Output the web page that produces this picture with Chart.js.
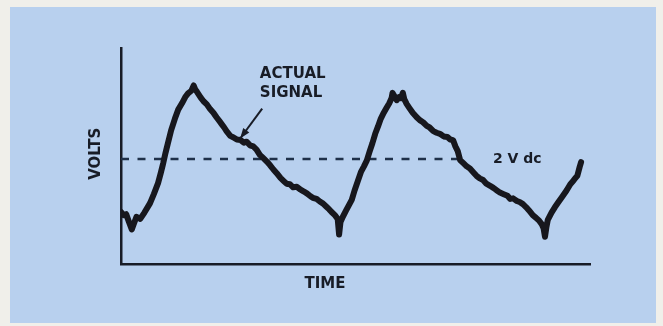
<!DOCTYPE html>
<html>
<head>
<meta charset="utf-8">
<script src="https://cdn.jsdelivr.net/npm/chart.js@4/dist/chart.umd.min.js"></script>
<style>
  html, body { margin: 0; padding: 0; background: #f0efea; }
  #panel { position: absolute; left: 10px; top: 7px; width: 646px; height: 316px; background: #b8d0ee; }
  #wrap { position: absolute; left: 0; top: 0; width: 663px; height: 326px; }
</style>
</head>
<body>
<div id="panel"></div>
<div id="wrap"><canvas id="chart" width="663" height="326"></canvas></div>
<script>
// signal (time in arbitrary units, volts)
const signalTime = [
  0.00, 0.06, 0.11, 0.17, 0.23, 0.28, 0.33, 0.41, 0.50, 0.62, 0.70, 0.79, 0.85, 0.90, 0.95, 1.00,
  1.07, 1.15, 1.22, 1.30, 1.37, 1.43, 1.50, 1.55, 1.58, 1.62, 1.70, 1.76, 1.83, 1.90, 1.97, 2.04,
  2.10, 2.15, 2.20, 2.25, 2.33, 2.40, 2.47, 2.55, 2.62, 2.68, 2.75, 2.82, 2.89, 2.96, 3.03, 3.11,
  3.18, 3.25, 3.32, 3.40, 3.47, 3.53, 3.60, 3.67, 3.75, 3.82, 3.90, 3.97, 4.04, 4.09, 4.17, 4.24,
  4.31, 4.38, 4.44, 4.49, 4.56, 4.62, 4.65, 4.68, 4.73, 4.80, 4.86, 4.92, 4.98, 5.05, 5.12, 5.18,
  5.24, 5.30, 5.36, 5.42, 5.48, 5.54, 5.59, 5.66, 5.72, 5.77, 5.79, 5.84, 5.88, 5.93, 5.97, 6.01,
  6.04, 6.09, 6.15, 6.22, 6.30, 6.37, 6.44, 6.52, 6.58, 6.66, 6.73, 6.80, 6.88, 6.96, 7.02, 7.08,
  7.13, 7.18, 7.23, 7.30, 7.37, 7.44, 7.52, 7.58, 7.65, 7.72, 7.79, 7.87, 7.94, 8.00, 8.08, 8.16,
  8.24, 8.30, 8.36, 8.44, 8.50, 8.57, 8.64, 8.70, 8.78, 8.85, 8.92, 8.97, 9.01, 9.04, 9.07, 9.10,
  9.18, 9.25, 9.32, 9.40, 9.50, 9.58, 9.64, 9.68, 9.73, 9.78, 9.81
];
const signalVolts = [
  0.99, 0.93, 0.95, 0.80, 0.66, 0.78, 0.90, 0.86, 0.98, 1.16, 1.33, 1.54, 1.74, 1.92, 2.12, 2.30,
  2.55, 2.77, 2.94, 3.06, 3.18, 3.25, 3.30, 3.40, 3.33, 3.28, 3.17, 3.10, 3.04, 2.95, 2.88, 2.79,
  2.72, 2.66, 2.60, 2.53, 2.44, 2.41, 2.37, 2.36, 2.31, 2.33, 2.26, 2.24, 2.18, 2.08, 2.02, 1.95,
  1.88, 1.80, 1.73, 1.64, 1.58, 1.53, 1.52, 1.46, 1.47, 1.42, 1.38, 1.34, 1.29, 1.26, 1.24, 1.19,
  1.15, 1.09, 1.04, 0.99, 0.93, 0.86, 0.56, 0.80, 0.90, 1.02, 1.12, 1.22, 1.40, 1.58, 1.76, 1.86,
  1.97, 2.14, 2.30, 2.48, 2.62, 2.77, 2.86, 2.97, 3.06, 3.16, 3.26, 3.18, 3.12, 3.18, 3.16, 3.26,
  3.14, 3.05, 2.97, 2.88, 2.80, 2.74, 2.70, 2.63, 2.60, 2.53, 2.50, 2.48, 2.43, 2.42, 2.37, 2.36,
  2.24, 2.15, 1.98, 1.92, 1.86, 1.82, 1.74, 1.68, 1.63, 1.60, 1.53, 1.49, 1.45, 1.41, 1.36, 1.33,
  1.30, 1.24, 1.25, 1.20, 1.18, 1.14, 1.08, 1.02, 0.93, 0.88, 0.82, 0.76, 0.68, 0.52, 0.70, 0.84,
  0.98, 1.08, 1.17, 1.27, 1.40, 1.52, 1.58, 1.63, 1.68, 1.85, 1.94
];
// dc reference line
const dcLevel = 2;
const dcTime = [0, 7.25];

const ink = '#181c26';

const signalPoints = signalTime.map((t, i) => ({ x: t, y: signalVolts[i] }));
const dcPoints = dcTime.map(t => ({ x: t, y: dcLevel }));

// labels, arrow and axis names drawn on top
const labelsPlugin = {
  id: 'labels',
  afterDatasetsDraw(chart) {
    const ctx = chart.ctx;
    const xs = chart.scales.x, ys = chart.scales.y;
    const area = chart.chartArea;
    ctx.save();
    ctx.fillStyle = ink;
    ctx.strokeStyle = ink;
    ctx.font = 'bold 15px "DejaVu Sans"';
    ctx.textBaseline = 'middle';
    ctx.textAlign = 'left';
    ctx.fillText('ACTUAL', xs.getPixelForValue(2.96), ys.getPixelForValue(3.61));
    ctx.fillText('SIGNAL', xs.getPixelForValue(2.96), ys.getPixelForValue(3.25));
    ctx.font = 'bold 14px "DejaVu Sans"';
    ctx.fillText('2 V dc', xs.getPixelForValue(7.93), ys.getPixelForValue(2.0));

    // arrow
    const x1 = xs.getPixelForValue(3.01), y1 = ys.getPixelForValue(2.96);
    const x2 = xs.getPixelForValue(2.54), y2 = ys.getPixelForValue(2.39);
    const a = Math.atan2(y2 - y1, x2 - x1);
    ctx.lineWidth = 2;
    ctx.beginPath();
    ctx.moveTo(x1, y1);
    ctx.lineTo(x2, y2);
    ctx.stroke();
    ctx.beginPath();
    ctx.moveTo(x2, y2);
    ctx.lineTo(x2 - 11 * Math.cos(a - 0.35), y2 - 11 * Math.sin(a - 0.35));
    ctx.lineTo(x2 - 11 * Math.cos(a + 0.35), y2 - 11 * Math.sin(a + 0.35));
    ctx.closePath();
    ctx.fill();

    // axis names
    ctx.font = 'bold 15px "DejaVu Sans"';
    ctx.textAlign = 'center';
    ctx.fillText('TIME', xs.getPixelForValue(4.35), area.bottom + 20);
    ctx.translate(area.left - 25, ys.getPixelForValue(2.1));
    ctx.rotate(-Math.PI / 2);
    ctx.fillText('VOLTS', 0, 0);
    ctx.restore();
  }
};

new Chart(document.getElementById('chart'), {
  type: 'line',
  data: {
    datasets: [
      {
        label: 'Actual signal',
        data: signalPoints,
        borderColor: '#17171d',
        borderWidth: 6,
        borderJoinStyle: 'round',
        borderCapStyle: 'round',
        pointRadius: 0,
        pointHoverRadius: 0,
        tension: 0
      },
      {
        label: '2 V dc',
        data: dcPoints,
        borderColor: '#1f3049',
        borderWidth: 2.5,
        borderDash: [8, 8.5],
        pointRadius: 0,
        pointHoverRadius: 0
      }
    ]
  },
  options: {
    responsive: false,
    animation: false,
    devicePixelRatio: 1,
    layout: { autoPadding: false, padding: { left: 121, top: 48, right: 73, bottom: 62 } },
    plugins: {
      legend: { display: false },
      tooltip: { enabled: false }
    },
    scales: {
      x: {
        type: 'linear',
        min: 0,
        max: 10,
        ticks: { display: false },
        grid: { display: false, drawTicks: false },
        border: { display: true, color: ink, width: 2.5 }
      },
      y: {
        min: 0,
        max: 4.114,
        ticks: { display: false },
        grid: { display: false, drawTicks: false },
        border: { display: true, color: ink, width: 2.5 }
      }
    }
  },
  plugins: [labelsPlugin]
});
</script>
</body>
</html>
